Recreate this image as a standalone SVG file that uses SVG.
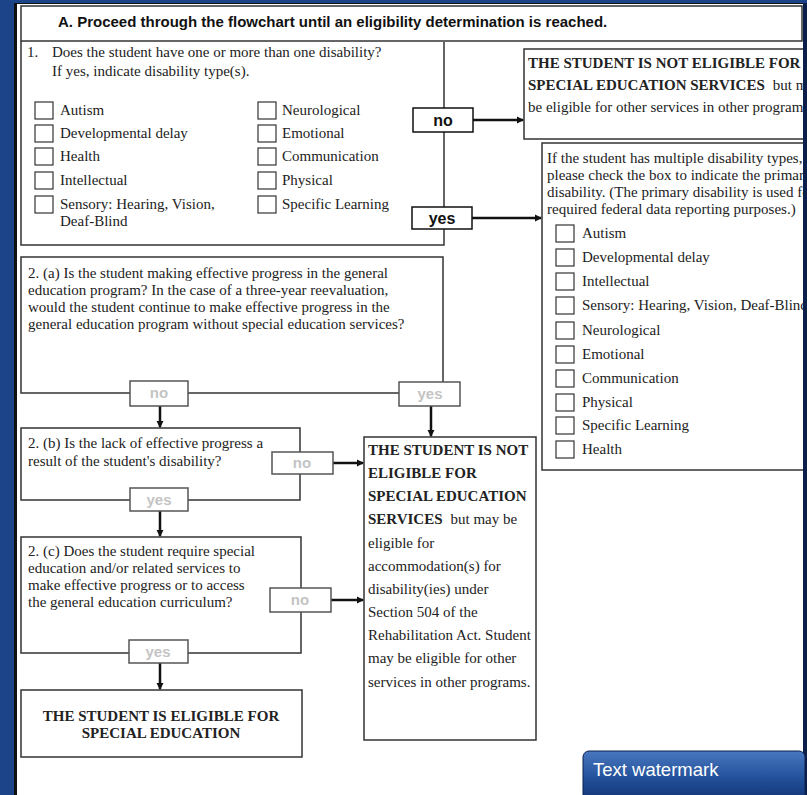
<svg xmlns="http://www.w3.org/2000/svg" width="807" height="795" viewBox="0 0 807 795">
<style>
.serif{font-family:"Liberation Serif","Times New Roman",serif;font-size:15px;fill:#222}
.b{font-weight:bold}
.sans{font-family:"Liberation Sans",Arial,sans-serif}
.box{fill:#fff;stroke:#333;stroke-width:1.5}
.cb{fill:#fff;stroke:#333;stroke-width:1.2}
.lbl{fill:#fff;stroke:#111;stroke-width:1.5}
.glbl{fill:#fff;stroke:#555;stroke-width:1.5}
.lt{font-family:"Liberation Sans",Arial,sans-serif;font-weight:bold;font-size:16px;fill:#111;text-anchor:middle}
.gt{font-family:"Liberation Sans",Arial,sans-serif;font-weight:bold;font-size:15px;fill:#c4c4c4;text-anchor:middle}
.ln{stroke:#333;stroke-width:1.5;fill:none}
.arr{stroke:#111;stroke-width:2.5;fill:none;marker-end:url(#ah)}
</style>
<defs>
<marker id="ah" markerWidth="8" markerHeight="8" refX="6" refY="4" orient="auto" markerUnits="userSpaceOnUse">
<path d="M0,0.5 L7,4 L0,7.5 Z" fill="#111"/>
</marker>
<linearGradient id="wm" x1="0" y1="0" x2="0" y2="1">
<stop offset="0" stop-color="#4a78bf"/>
<stop offset="0.45" stop-color="#22509a"/>
<stop offset="1" stop-color="#0c2a66"/>
</linearGradient>
</defs>
<rect x="0" y="0" width="807" height="795" fill="#1c4589"/>
<rect x="14" y="3" width="793" height="792" fill="#111"/>
<rect x="17" y="4" width="786" height="791" fill="#fff"/>

<g id="header">
<rect x="21" y="6" width="781" height="35" class="box"/>
<text x="58" y="27" class="sans b" font-size="15" fill="#111">A. Proceed through the flowchart until an eligibility determination is reached.</text>
</g>

<g id="q1">
<path d="M21,41 V245 H444 V42" class="ln"/>
<text class="serif" x="27" y="57">1.</text>
<text class="serif" x="52" y="57">Does the student have one or more than one disability?</text>
<text class="serif" x="52" y="76">If yes, indicate disability type(s).</text>
<rect class="cb" x="35" y="102" width="18" height="17"/><text class="serif" x="60" y="115">Autism</text>
<rect class="cb" x="35" y="125" width="18" height="17"/><text class="serif" x="60" y="138">Developmental delay</text>
<rect class="cb" x="35" y="148" width="18" height="17"/><text class="serif" x="60" y="161">Health</text>
<rect class="cb" x="35" y="172" width="18" height="17"/><text class="serif" x="60" y="185">Intellectual</text>
<rect class="cb" x="35" y="196" width="18" height="17"/><text class="serif" x="60" y="209">Sensory: Hearing, Vision,</text>
<text class="serif" x="60" y="226">Deaf-Blind</text>
<rect class="cb" x="258" y="102" width="18" height="17"/><text class="serif" x="282" y="115">Neurological</text>
<rect class="cb" x="258" y="125" width="18" height="17"/><text class="serif" x="282" y="138">Emotional</text>
<rect class="cb" x="258" y="148" width="18" height="17"/><text class="serif" x="282" y="161">Communication</text>
<rect class="cb" x="258" y="172" width="18" height="17"/><text class="serif" x="282" y="185">Physical</text>
<rect class="cb" x="258" y="196" width="18" height="17"/><text class="serif" x="282" y="209">Specific Learning</text>
</g>

<g id="notElig1">
<rect x="524" y="49" width="290" height="90" class="box"/>
<text class="serif b" x="528" y="68">THE STUDENT IS NOT ELIGIBLE FOR</text>
<text class="serif" x="528" y="90"><tspan class="b">SPECIAL EDUCATION SERVICES</tspan><tspan dx="8">but may</tspan></text>
<text class="serif" x="528" y="112">be eligible for other services in other programs.</text>
</g>

<g id="primary">
<rect x="542" y="143" width="272" height="327" class="box"/>
<text class="serif" x="547" y="163">If the student has multiple disability types,</text>
<text class="serif" x="547" y="180">please check the box to indicate the primary</text>
<text class="serif" x="547" y="197">disability. (The primary disability is used for</text>
<text class="serif" x="547" y="214">required federal data reporting purposes.)</text>
<rect class="cb" x="556" y="225" width="18" height="17"/><text class="serif" x="582" y="238">Autism</text>
<rect class="cb" x="556" y="249" width="18" height="17"/><text class="serif" x="582" y="262">Developmental delay</text>
<rect class="cb" x="556" y="273" width="18" height="17"/><text class="serif" x="582" y="286">Intellectual</text>
<rect class="cb" x="556" y="297" width="18" height="17"/><text class="serif" x="582" y="310">Sensory: Hearing, Vision, Deaf-Blind</text>
<rect class="cb" x="556" y="322" width="18" height="17"/><text class="serif" x="582" y="335">Neurological</text>
<rect class="cb" x="556" y="346" width="18" height="17"/><text class="serif" x="582" y="359">Emotional</text>
<rect class="cb" x="556" y="370" width="18" height="17"/><text class="serif" x="582" y="383">Communication</text>
<rect class="cb" x="556" y="394" width="18" height="17"/><text class="serif" x="582" y="407">Physical</text>
<rect class="cb" x="556" y="417" width="18" height="17"/><text class="serif" x="582" y="430">Specific Learning</text>
<rect class="cb" x="556" y="441" width="18" height="17"/><text class="serif" x="582" y="454">Health</text>
</g>

<g id="q2a">
<rect x="21" y="257" width="422" height="136" class="box"/>
<text class="serif" x="28" y="278">2. (a) Is the student making effective progress in the general</text>
<text class="serif" x="28" y="295">education program? In the case of a three-year reevaluation,</text>
<text class="serif" x="28" y="312">would the student continue to make effective progress in the</text>
<text class="serif" x="28" y="329">general education program without special education services?</text>
</g>

<g id="q2b">
<rect x="21" y="428" width="279" height="72" class="box"/>
<text class="serif" x="28" y="448">2. (b) Is the lack of effective progress a</text>
<text class="serif" x="28" y="466">result of the student's disability?</text>
</g>

<g id="q2c">
<rect x="21" y="537" width="280" height="116" class="box"/>
<text class="serif" x="28" y="556">2. (c) Does the student require special</text>
<text class="serif" x="28" y="573">education and/or related services to</text>
<text class="serif" x="28" y="590">make effective progress or to access</text>
<text class="serif" x="28" y="607">the general education curriculum?</text>
</g>

<g id="eligible">
<rect x="21" y="690" width="281" height="67" class="box"/>
<text class="serif b" x="161" y="721" text-anchor="middle">THE STUDENT IS ELIGIBLE FOR</text>
<text class="serif b" x="161" y="738" text-anchor="middle">SPECIAL EDUCATION</text>
</g>

<g id="notElig2">
<rect x="364" y="437" width="172" height="303" class="box"/>
<text class="serif b" x="368" y="455">THE STUDENT IS NOT</text>
<text class="serif b" x="368" y="478">ELIGIBLE FOR</text>
<text class="serif b" x="368" y="501">SPECIAL EDUCATION</text>
<text class="serif" x="368" y="524"><tspan class="b">SERVICES</tspan><tspan dx="8">but may be</tspan></text>
<text class="serif" x="368" y="548">eligible for</text>
<text class="serif" x="368" y="571">accommodation(s) for</text>
<text class="serif" x="368" y="594">disability(ies) under</text>
<text class="serif" x="368" y="617">Section 504 of the</text>
<text class="serif" x="368" y="640">Rehabilitation Act. Student</text>
<text class="serif" x="368" y="663">may be eligible for other</text>
<text class="serif" x="368" y="687">services in other programs.</text>
</g>

<g id="connectors">
<path class="arr" d="M473,120 H523"/>
<path class="arr" d="M472,218 H541"/>
<path class="arr" d="M160,406 V427"/>
<path class="arr" d="M431,406 V436"/>
<path class="arr" d="M333,463 H363"/>
<path class="arr" d="M160,511 V536"/>
<path class="arr" d="M331,600 H363"/>
<path class="arr" d="M160,663 V689"/>
</g>

<g id="labels">
<rect class="lbl" x="413" y="108" width="60" height="24"/><text class="lt" x="443" y="126">no</text>
<rect class="lbl" x="412" y="207" width="60" height="22"/><text class="lt" x="442" y="224">yes</text>
<rect class="glbl" x="130" y="381" width="58" height="25"/><text class="gt" x="159" y="398">no</text>
<rect class="glbl" x="399" y="382" width="61" height="24"/><text class="gt" x="430" y="399">yes</text>
<rect class="glbl" x="272" y="452" width="61" height="22"/><text class="gt" x="302" y="468">no</text>
<rect class="glbl" x="130" y="488" width="58" height="23"/><text class="gt" x="159" y="505">yes</text>
<rect class="glbl" x="270" y="588" width="61" height="24"/><text class="gt" x="300" y="605">no</text>
<rect class="glbl" x="129" y="640" width="59" height="23"/><text class="gt" x="158" y="657">yes</text>
</g>

<rect x="803" y="0" width="4" height="795" fill="#0b1f4a"/>
<rect x="0" y="0" width="807" height="3" fill="#1c4589"/>

<g id="watermark">
<rect x="583" y="751" width="222" height="60" rx="6" fill="url(#wm)" stroke="#0a2050" stroke-width="1"/>
<text x="593" y="776" font-family="'Liberation Sans',Arial,sans-serif" font-size="18.5" fill="#fff">Text watermark</text>
</g>
</svg>
